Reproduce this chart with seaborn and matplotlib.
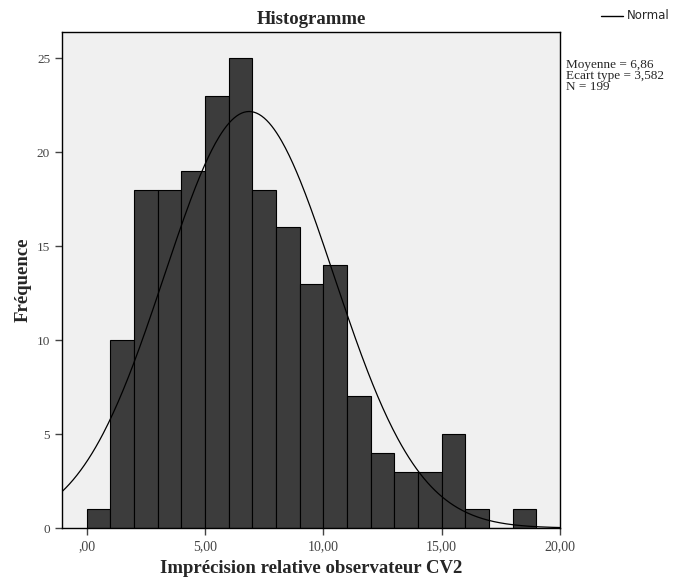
import numpy as np
import matplotlib
matplotlib.use("Agg")
import matplotlib.pyplot as plt
import seaborn as sns

# bin edges (width 1) and counts
bin_edges = list(range(0, 20))
counts = [1, 10, 18, 18, 19, 23, 25, 18, 16, 13, 14, 7, 4, 3, 3, 5, 1, 0, 1]
bin_centers = [e + 0.5 for e in bin_edges[:-1]]

mean_val = 6.86
sd_val = 3.582
n_obs = 199

x_ticks = [0, 5, 10, 15, 20]
x_tick_labels = [",00", "5,00", "10,00", "15,00", "20,00"]
y_ticks = [0, 5, 10, 15, 20, 25]

sns.set_style("white")
plt.rcParams["font.family"] = ["Liberation Serif", "DejaVu Serif"]

fig = plt.figure(figsize=(6.85, 5.83), dpi=100)
ax = fig.add_axes([0.0905, 0.0943, 0.727, 0.851])
ax.set_facecolor("#f0f0f0")

sns.histplot(x=bin_centers, weights=counts, bins=bin_edges, ax=ax,
             color="#3c3c3c", edgecolor="black", linewidth=0.8, alpha=1)

# normal curve scaled to counts (bin width 1)
xs = np.linspace(-1.05, 20, 400)
ys = n_obs / (sd_val * np.sqrt(2 * np.pi)) * np.exp(-0.5 * ((xs - mean_val) / sd_val) ** 2)
ax.plot(xs, ys, color="black", linewidth=0.9)

ax.set_xlim(-1.05, 20)
ax.set_ylim(0, 26.4)
ax.set_xticks(x_ticks)
ax.set_xticklabels(x_tick_labels)
ax.set_yticks(y_ticks)
ax.tick_params(axis="both", direction="out", length=5, width=1, labelsize=9.5,
               colors="#444444", bottom=True, left=True)
ax.tick_params(axis="x", labelsize=10)
for s in ax.spines.values():
    s.set_color("black")
    s.set_linewidth(1)

ax.set_title("Histogramme", fontsize=13.5, fontweight="bold", pad=6)
ax.set_xlabel("Imprécision relative observateur CV2", fontsize=13.5, fontweight="bold", labelpad=5)
ax.set_ylabel("Fréquence", fontsize=13.5, fontweight="bold", labelpad=4)

# legend and stats box in the right margin
fig.lines.append(plt.Line2D([0.878, 0.91], [0.973, 0.973], color="black",
                            linewidth=1, transform=fig.transFigure))
fig.text(0.915, 0.973, "Normal", fontsize=8.5, va="center", family="DejaVu Sans")
fig.text(0.827, 0.899, "Moyenne = 6,86\nEcart type = 3,582\nN = 199",
         fontsize=9.5, va="top", linespacing=0.9)

fig.savefig("out.png", dpi=100)
